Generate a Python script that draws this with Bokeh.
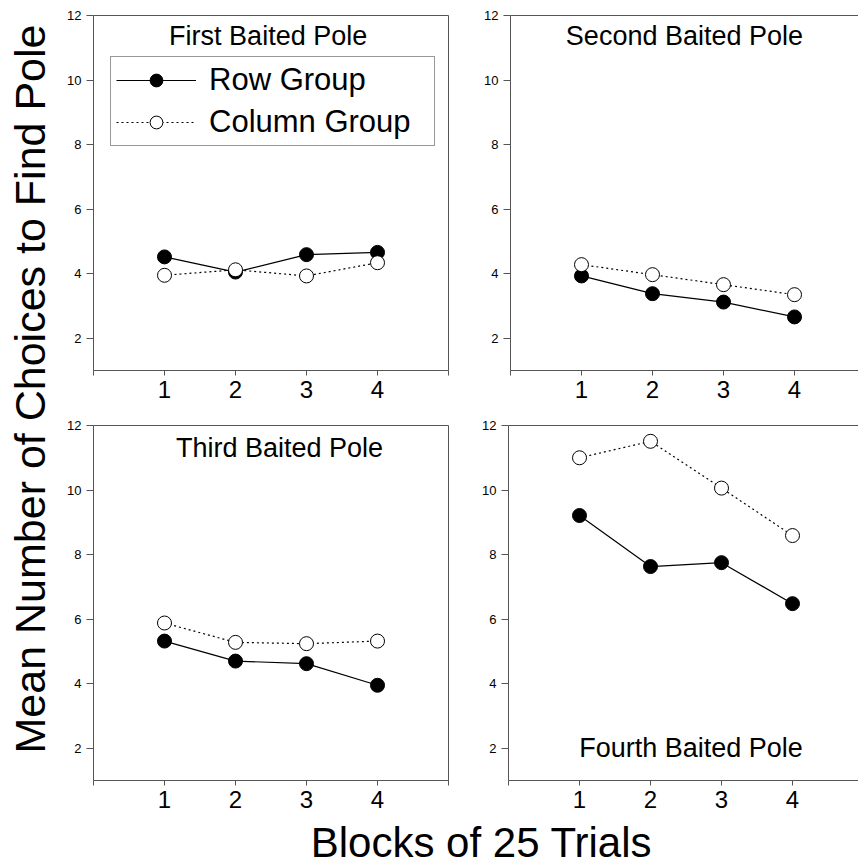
import math
from bokeh.plotting import figure
from bokeh.models import Range1d, FixedTicker, LinearAxis, Label, Legend, LegendItem
from bokeh.layouts import row, column
from bokeh.embed import file_html
from bokeh.resources import INLINE

# ---------------- data ----------------
blocks = [1, 2, 3, 4]
first_row = [4.52, 4.05, 4.59, 4.66]
first_col = [3.95, 4.12, 3.93, 4.34]
second_row = [3.93, 3.38, 3.12, 2.66]
second_col = [4.28, 3.97, 3.66, 3.35]
third_row = [5.32, 4.70, 4.62, 3.95]
third_col = [5.88, 5.28, 5.24, 5.32]
fourth_row = [9.21, 7.63, 7.75, 6.48]
fourth_col = [11.00, 11.51, 10.06, 8.59]

x_ticks = [0, 1, 2, 3, 4, 5]
y_ticks = [2, 4, 6, 8, 10, 12]
titles = ["First Baited Pole", "Second Baited Pole", "Third Baited Pole", "Fourth Baited Pole"]
series_names = ["Row Group", "Column Group"]
y_label = "Mean Number of Choices to Find Pole"
x_label = "Blocks of 25 Trials"

FONT = "Liberation Sans"
AX = "#555555"


def panel(width, height, left, right, top, bottom, x_end, row_vals, col_vals,
          title, tx, ty, right_border, legend=False):
    p = figure(width=width, height=height, x_range=Range1d(0, x_end), y_range=Range1d(1, 12),
               output_backend="svg", toolbar_location=None,
               min_border_left=left, min_border_right=right,
               min_border_top=top, min_border_bottom=bottom)
    p.outline_line_color = None
    p.grid.visible = False

    xa = p.xaxis[0]
    xa.ticker = FixedTicker(ticks=x_ticks)
    xa.major_label_overrides = {0: "", 5: ""}
    xa.major_label_text_font = FONT
    xa.major_label_text_font_size = "24px"
    xa.major_label_text_color = "black"
    xa.major_label_standoff = 5
    xa.major_tick_out = 5
    xa.major_tick_in = 0
    xa.minor_tick_line_color = None
    xa.axis_line_color = AX
    xa.major_tick_line_color = AX

    ya = p.yaxis[0]
    ya.ticker = FixedTicker(ticks=y_ticks)
    ya.major_label_text_font = FONT
    ya.major_label_text_font_size = "13px"
    ya.major_label_text_color = "black"
    ya.major_label_standoff = 5
    ya.major_tick_out = 7
    ya.major_tick_in = 0
    ya.minor_tick_line_color = None
    ya.axis_line_color = AX
    ya.major_tick_line_color = AX

    def border_axis(side):
        ax = LinearAxis(ticker=FixedTicker(ticks=[]), major_label_text_font_size="0px",
                        major_tick_line_color=None, minor_tick_line_color=None,
                        major_label_standoff=0, axis_line_color=AX)
        p.add_layout(ax, side)

    border_axis("above")
    if right_border:
        border_axis("right")

    rl = p.line(blocks, row_vals, line_color="black", line_width=1.2)
    cl = p.line(blocks, col_vals, line_color="black", line_width=1.2, line_dash="2 3")
    rs = p.scatter(blocks, row_vals, marker="circle", size=14, fill_color="black",
                   line_color="black", line_width=1)
    cs = p.scatter(blocks, col_vals, marker="circle", size=14, fill_color="white",
                   line_color="black", line_width=1)

    p.add_layout(Label(x=tx, y=ty, text=title, text_align="center", text_baseline="middle",
                       text_font=FONT, text_font_size="27px", text_color="black"))

    if legend:
        lg = Legend(items=[LegendItem(label=series_names[0], renderers=[rl, rs]),
                           LegendItem(label=series_names[1], renderers=[cl, cs])],
                    location=(17, 224), margin=0, padding=5, spacing=6,
                    glyph_width=80, glyph_height=32, label_standoff=13, label_width=220,
                    label_text_font=FONT, label_text_font_size="31px",
                    label_text_color="black",
                    border_line_color="#333333", border_line_width=1,
                    background_fill_color="white", background_fill_alpha=1)
        p.add_layout(lg)
    return p


YW = 56  # width of the y-label strip
tl = panel(465 - YW, 415, 93 - YW, 17, 15, 45, 5.0, first_row, first_col, titles[0], 2.46, 11.36, True, legend=True)
tr = panel(393, 415, 45, 0, 15, 45, 348 / 71, second_row, second_col, titles[1], 2.45, 11.35, False)
bl = panel(465 - YW, 403, 93 - YW, 17, 10, 38, 5.0, third_row, third_col, titles[2], 2.62, 11.29, True)
br = panel(393, 403, 43, 0, 10, 38, 350 / 71, fourth_row, fourth_col, titles[3], 2.57, 2.01, False)

# y label strip
yfig = figure(width=YW, height=866, x_range=Range1d(0, YW), y_range=Range1d(0, 866),
              x_axis_type=None, y_axis_type=None, output_backend="svg", toolbar_location=None,
              min_border=0)
yfig.outline_line_color = None
yfig.grid.visible = False
yfig.add_layout(Label(x=29, y=866 - 388.5, text=y_label, angle=math.pi / 2,
                      text_align="center", text_baseline="middle",
                      text_font=FONT, text_font_size="43px", text_color="black"))

# x label strip
xfig = figure(width=858 - YW, height=48, x_range=Range1d(YW, 858), y_range=Range1d(866, 818),
              x_axis_type=None, y_axis_type=None, output_backend="svg", toolbar_location=None,
              min_border=0)
xfig.outline_line_color = None
xfig.grid.visible = False
xfig.add_layout(Label(x=481, y=842, text=x_label, text_align="center", text_baseline="middle",
                      text_font=FONT, text_font_size="42px", text_color="black"))

layout = row(yfig, column(row(tl, tr), row(bl, br), xfig))

with open("out.html", "w") as f:
    f.write(file_html(layout, INLINE))
